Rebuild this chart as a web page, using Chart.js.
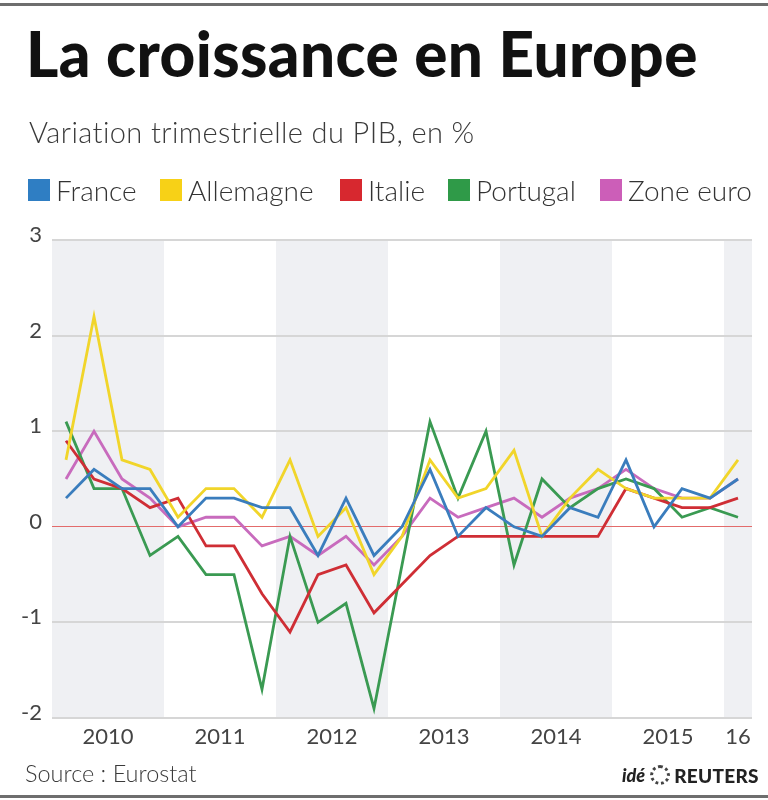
<!DOCTYPE html>
<html>
<head>
<meta charset="utf-8">
<script src="https://cdn.jsdelivr.net/npm/chart.js@4"></script>
<style>
  html, body { margin:0; padding:0; background:#fff; }
  #wrap { position:relative; width:768px; height:800px; overflow:hidden; background:#fff; font-family: Lato, "Open Sans", sans-serif; }
  #c { position:absolute; left:0; top:0; }
  .bar { position:absolute; left:0; width:768px; height:3px; background:#6e6e6e; }
  #title { position:absolute; left:26px; top:22px; font-size:62px; font-weight:900; color:#111; line-height:1; letter-spacing:0.4px; white-space:nowrap; }
  #subtitle { position:absolute; left:29px; top:117px; font-size:29px; font-weight:300; color:#3a3a3a; line-height:1; letter-spacing:0.4px; white-space:nowrap; }
  .lg { position:absolute; top:176px; height:28px; display:flex; align-items:center; font-size:28px; font-weight:300; color:#333; white-space:nowrap; }
  .lg .sw { width:22px; height:22px; margin-right:6px; }
  #source { position:absolute; left:25px; top:762px; font-size:23.5px; font-weight:300; color:#3a3a3a; white-space:nowrap; line-height:1; }
  #reuters { position:absolute; left:622px; top:765px; display:flex; align-items:center; white-space:nowrap; color:#222; line-height:1; }
  #reuters .ide { font-style:italic; font-weight:900; font-size:18px; margin-right:5px; }
  #reuters .logo { width:20px; height:20px; border-radius:50%; border:3px dotted #444; box-sizing:border-box; margin-right:4px; }
  #reuters .rt { font-weight:900; font-size:19px; letter-spacing:0.3px; }
</style>
</head>
<body>
<div id="wrap">
  <div class="bar" style="top:3px"></div>
  <canvas id="c" width="768" height="800"></canvas>
  <div id="title">La croissance en Europe</div>
  <div id="subtitle">Variation trimestrielle du PIB, en %</div>
  <div id="legend"></div>
  <div id="source">Source : Eurostat</div>
  <div id="reuters"><span class="ide">idé</span><span class="logo"></span><span class="rt">REUTERS</span></div>
  <div class="bar" style="top:795px"></div>
</div>
<script>
// ---- Data ----
// Quarters 2010 T1 .. 2016 T1 (25 quarters)
const quarters = [
  '2010T1','2010T2','2010T3','2010T4',
  '2011T1','2011T2','2011T3','2011T4',
  '2012T1','2012T2','2012T3','2012T4',
  '2013T1','2013T2','2013T3','2013T4',
  '2014T1','2014T2','2014T3','2014T4',
  '2015T1','2015T2','2015T3','2015T4',
  '2016T1'
];
const seriesNames = ['France','Allemagne','Italie','Portugal','Zone euro'];
const seriesColors = ['#3a7dbd','#f1d52a','#cf2e35','#3a9a52','#c86bbd'];
const legendColors = ['#2f7ec3','#f7d117','#d7282f','#2f9a48','#cc5eb8'];

const france    = [0.3, 0.6, 0.4, 0.4, 0.0, 0.3, 0.3, 0.2, 0.2, -0.3, 0.3, -0.3, 0.0, 0.6, -0.1, 0.2, 0.0, -0.1, 0.2, 0.1, 0.7, 0.0, 0.4, 0.3, 0.5];
const allemagne = [0.7, 2.2, 0.7, 0.6, 0.1, 0.4, 0.4, 0.1, 0.7, -0.1, 0.2, -0.5, -0.1, 0.7, 0.3, 0.4, 0.8, -0.1, 0.3, 0.6, 0.4, 0.3, 0.3, 0.3, 0.7];
const italie    = [0.9, 0.5, 0.4, 0.2, 0.3, -0.2, -0.2, -0.7, -1.1, -0.5, -0.4, -0.9, -0.6, -0.3, -0.1, -0.1, -0.1, -0.1, -0.1, -0.1, 0.4, 0.3, 0.2, 0.2, 0.3];
const portugal  = [1.1, 0.4, 0.4, -0.3, -0.1, -0.5, -0.5, -1.7, -0.1, -1.0, -0.8, -1.9, -0.4, 1.1, 0.3, 1.0, -0.4, 0.5, 0.2, 0.4, 0.5, 0.4, 0.1, 0.2, 0.1];
const zoneEuro  = [0.5, 1.0, 0.5, 0.3, 0.0, 0.1, 0.1, -0.2, -0.1, -0.3, -0.1, -0.4, -0.1, 0.3, 0.1, 0.2, 0.3, 0.1, 0.3, 0.4, 0.6, 0.4, 0.3, 0.3, 0.5];

// Year tick labels and shaded years
const years       = ['2010','2011','2012','2013','2014','2015','2016'];
const yearLabels  = ['2010','2011','2012','2013','2014','2015','16'];
const shadedYears = ['2010','2012','2014','2016'];
const yTicks      = [-2, -1, 0, 1, 2, 3];

// ---- Layout (not data) ----
const legendLeft = [28, 160, 340, 448, 600];

// Legend (HTML)
const lg = document.getElementById('legend');
seriesNames.forEach((n, i) => {
  const d = document.createElement('div');
  d.className = 'lg';
  d.style.left = legendLeft[i] + 'px';
  d.innerHTML = '<span class="sw" style="background:' + legendColors[i] + '"></span>' + n;
  lg.appendChild(d);
});

const allSeries = [france, allemagne, italie, portugal, zoneEuro];

// quarter indices belonging to each year
function yearRange(y) {
  const idx = quarters.map((q, i) => q.startsWith(y) ? i : -1).filter(i => i >= 0);
  return [Math.min(...idx), Math.max(...idx)];
}

const bandPlugin = {
  id: 'bands',
  beforeDraw(chart) {
    const { ctx, chartArea, scales } = chart;
    const x = scales.x;
    ctx.save();
    ctx.fillStyle = '#eff0f3';
    shadedYears.forEach(y => {
      const [a, b] = yearRange(y);
      let x0 = x.getPixelForValue(a - 0.5);
      let x1 = x.getPixelForValue(b + 0.5);
      x0 = Math.max(x0, chartArea.left);
      x1 = Math.min(x1, chartArea.right);
      ctx.fillRect(x0, chartArea.top, x1 - x0, chartArea.bottom - chartArea.top);
    });
    ctx.restore();
  }
};

const tickValues = years.map(y => {
  const [a, b] = yearRange(y);
  return (a + b) / 2;
});

new Chart(document.getElementById('c'), {
  type: 'line',
  data: {
    datasets: allSeries.map((s, i) => ({
      label: seriesNames[i],
      data: s.map((v, k) => ({ x: k, y: v })),
      borderColor: seriesColors[i],
      backgroundColor: seriesColors[i],
      borderWidth: 2.8,
      pointRadius: 0,
      tension: 0,
      fill: false
    }))
  },
  options: {
    responsive: false,
    animation: false,
    devicePixelRatio: 1,
    layout: { padding: { top: 240, right: 16, left: 0, bottom: 0 } },
    plugins: { legend: { display: false }, tooltip: { enabled: false }, title: { display: false } },
    scales: {
      x: {
        type: 'linear',
        min: -0.5,
        max: quarters.length - 0.5,
        grid: { display: false, drawTicks: false },
        border: { display: false },
        afterBuildTicks(axis) { axis.ticks = tickValues.map(v => ({ value: v })); },
        afterFit(axis) { axis.height = 82; },
        ticks: {
          autoSkip: false,
          maxRotation: 0,
          padding: 6,
          color: '#444',
          font: { family: 'Lato', size: 22 },
          callback: (v, i) => yearLabels[i]
        }
      },
      y: {
        min: yTicks[0],
        max: yTicks[yTicks.length - 1],
        afterBuildTicks(axis) { axis.ticks = yTicks.map(v => ({ value: v })); },
        afterFit(axis) { axis.width = 52; },
        grid: {
          drawTicks: false,
          color: c => c.tick && c.tick.value === 0 ? '#e36b6b' : '#d6d6d6',
          lineWidth: c => c.tick && c.tick.value === 0 ? 1 : 2
        },
        border: { display: false },
        ticks: {
          padding: 10,
          labelOffset: -5,
          color: '#444',
          font: { family: 'Lato', size: 22 },
          callback: v => String(v)
        }
      }
    }
  },
  plugins: [bandPlugin]
});
</script>
</body>
</html>
